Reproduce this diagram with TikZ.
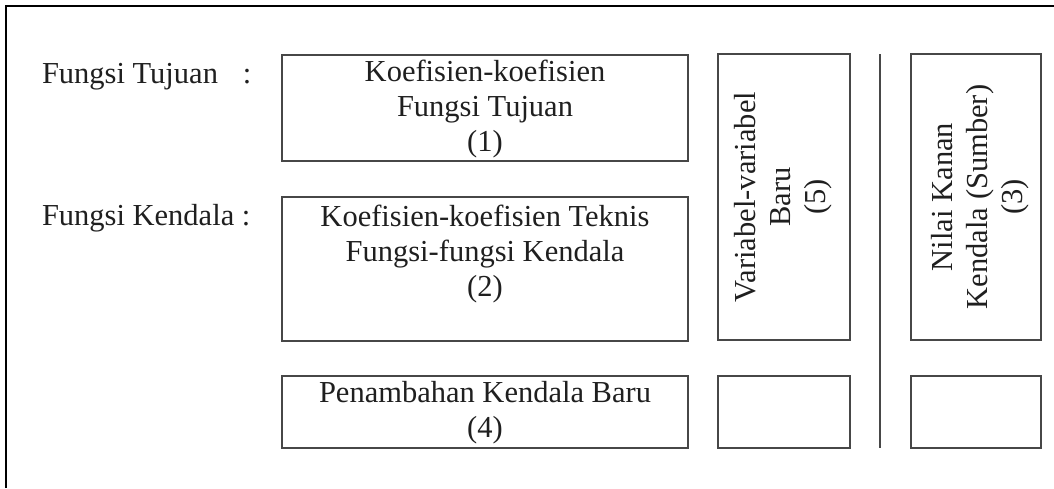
\documentclass[tikz,border=0pt]{standalone}
\usepackage{fontspec}
\setmainfont{Liberation Serif}
\begin{document}
\begin{tikzpicture}[x=0.5pt,y=-0.5pt,
  every node/.style={inner sep=0pt, outer sep=0pt},
  lbl/.style={font=\fontsize{15.25}{17.5}\selectfont, text=black!88, align=center},
  cell/.style={draw=black!72, line width=0.8pt, minimum width=#1},
  cell/.default=203pt,
  frameline/.style={line width=1.4pt, black},
  divider/.style={draw=black!72, line width=0.8pt}
]
\useasboundingbox (0,0) rectangle (1054,488);

% open frame: only the left and top edges are drawn
\draw[frameline] (6,488) -- (6,6) -- (1054,6);

% row labels
\node[lbl, anchor=base west] (ft) at (42,83) {Fungsi Tujuan\hspace{0.82em}:};
\node[lbl, anchor=base west] (fk) at (42,225) {Fungsi Kendala :};

% left column of blocks
\node[cell, minimum height=53pt] (b1) at (485,108) {};
\node[cell, minimum height=72pt] (b2) at (485,269) {};
\node[cell, minimum height=36pt] (b4) at (485,412) {};

\node[lbl] (t1) at (485,109) {Koefisien-koefisien\\Fungsi Tujuan\\(1)};
\node[lbl] (t2) at (485,254) {Koefisien-koefisien Teknis\\Fungsi-fungsi Kendala\\(2)};
\node[lbl] (t4) at (485,413) {Penambahan Kendala Baru\\(4)};

% new variables column
\node[cell=66pt, minimum height=143pt] (b5) at (784,197) {};
\node[cell=66pt, minimum height=36pt] (b5n) at (784,412) {};
\node[lbl, rotate=90] (t5) at (783,197) {Variabel-variabel\\Baru\\(5)};

% separator before the right-hand side
\coordinate (sepTop) at (880,54);
\coordinate (sepBot) at (880,448);
\draw[divider] (sepTop) -- (sepBot);

% right-hand side column
\node[cell=65pt, minimum height=143pt] (b3) at (976,197) {};
\node[cell=65pt, minimum height=36pt] (b3n) at (976,412) {};
\node[lbl, rotate=90] (t3) at (980,197) {Nilai Kanan\\Kendala (Sumber)\\(3)};
\end{tikzpicture}
\end{document}
